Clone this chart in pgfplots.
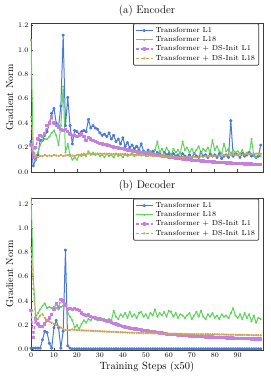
\documentclass[border=0pt]{standalone}
\usepackage{pgfplots}
\usepackage{pgfplotstable}
\pgfplotsset{compat=1.18}
\definecolor{cblue}{HTML}{4A7AD6}
\definecolor{cgreen}{HTML}{62D25E}
\definecolor{cpurple}{HTML}{C57FDC}
\definecolor{ctan}{HTML}{CDA65C}
\definecolor{frame}{HTML}{3C3C3C}

\pgfplotstableread{
x e1 e18 ed1 ed18
0 0.25 1.08 0.22 0.45
1 0.05 0.15 0.12 0.20
2 0.10 0.10 0.20 0.13
3 0.14 0.16 0.27 0.12
4 0.26 0.22 0.30 0.13
5 0.26 0.26 0.29 0.13
6 0.30 0.27 0.31 0.14
7 0.33 0.27 0.38 0.13
8 0.40 0.29 0.40 0.135
9 0.48 0.32 0.45 0.13
10 0.52 0.34 0.40 0.14
11 0.40 0.30 0.38 0.135
12 0.37 0.22 0.37 0.13
13 0.54 0.38 0.35 0.14
14 1.12 0.70 0.34 0.13
15 0.38 0.16 0.35 0.135
16 0.61 0.23 0.33 0.14
17 0.38 0.14 0.31 0.13
18 0.23 0.10 0.30 0.135
19 0.34 0.12 0.30 0.13
20 0.33 0.10 0.29 0.14
21 0.31 0.14 0.30 0.14
22 0.33 0.13 0.31 0.145
23 0.34 0.15 0.29 0.14
24 0.33 0.13 0.26 0.145
25 0.43 0.17 0.28 0.15
26 0.36 0.14 0.27 0.15
27 0.38 0.16 0.26 0.145
28 0.36 0.14 0.25 0.15
29 0.35 0.15 0.24 0.15
30 0.32 0.13 0.235 0.15
31 0.30 0.14 0.23 0.148
32 0.31 0.12 0.225 0.15
33 0.29 0.15 0.22 0.145
34 0.32 0.13 0.215 0.15
35 0.27 0.14 0.21 0.148
36 0.30 0.12 0.205 0.145
37 0.25 0.15 0.20 0.15
38 0.27 0.13 0.195 0.145
39 0.23 0.14 0.19 0.148
40 0.28 0.12 0.19 0.145
41 0.21 0.15 0.185 0.14
42 0.24 0.13 0.18 0.145
43 0.20 0.14 0.178 0.14
44 0.22 0.16 0.175 0.142
45 0.19 0.13 0.17 0.14
46 0.21 0.15 0.168 0.138
47 0.18 0.20 0.165 0.14
48 0.23 0.14 0.162 0.135
49 0.17 0.16 0.16 0.138
50 0.16 0.13 0.155 0.135
51 0.18 0.15 0.152 0.132
52 0.15 0.17 0.148 0.135
53 0.17 0.14 0.145 0.13
54 0.14 0.18 0.142 0.132
55 0.16 0.25 0.138 0.13
56 0.15 0.16 0.135 0.128
57 0.13 0.19 0.132 0.13
58 0.16 0.15 0.128 0.125
59 0.14 0.20 0.125 0.128
60 0.15 0.17 0.122 0.125
61 0.12 0.14 0.12 0.122
62 0.15 0.19 0.118 0.125
63 0.13 0.16 0.115 0.12
64 0.14 0.18 0.112 0.124
65 0.12 0.15 0.11 0.12
66 0.15 0.25 0.108 0.122
67 0.13 0.18 0.105 0.12
68 0.12 0.20 0.103 0.125
69 0.14 0.16 0.10 0.12
70 0.12 0.19 0.098 0.122
71 0.15 0.15 0.096 0.125
72 0.13 0.18 0.094 0.12
73 0.12 0.21 0.092 0.125
74 0.16 0.16 0.09 0.128
75 0.13 0.19 0.089 0.125
76 0.14 0.17 0.087 0.13
77 0.12 0.20 0.086 0.128
78 0.15 0.16 0.084 0.13
79 0.13 0.26 0.083 0.132
80 0.14 0.18 0.082 0.13
81 0.12 0.21 0.08 0.135
82 0.15 0.17 0.079 0.132
83 0.11 0.15 0.078 0.135
84 0.13 0.23 0.077 0.138
85 0.14 0.17 0.075 0.135
86 0.12 0.19 0.074 0.14
87 0.42 0.15 0.073 0.138
88 0.13 0.18 0.072 0.14
89 0.15 0.16 0.071 0.142
90 0.14 0.17 0.07 0.14
91 0.12 0.15 0.069 0.145
92 0.15 0.18 0.068 0.142
93 0.13 0.14 0.067 0.145
94 0.14 0.16 0.066 0.148
95 0.16 0.15 0.065 0.145
96 0.13 0.27 0.064 0.15
97 0.14 0.13 0.063 0.148
98 0.12 0.12 0.062 0.15
99 0.13 0.14 0.061 0.152
100 0.22 0.13 0.06 0.15
}\enctable

\pgfplotstableread{
x d1 d18 dd1 dd18
0 0.01 1.30 0.32 0.84
1 0.01 0.60 0.10 0.50
2 0.01 0.27 0.25 0.25
3 0.01 0.30 0.21 0.25
4 0.01 0.33 0.19 0.28
5 0.08 0.36 0.19 0.29
6 0.15 0.38 0.21 0.26
7 0.14 0.34 0.24 0.24
8 0.05 0.35 0.26 0.23
9 0.01 0.34 0.29 0.22
10 0.18 0.35 0.33 0.21
11 0.24 0.34 0.38 0.20
12 0.18 0.33 0.35 0.19
13 0.01 0.35 0.41 0.18
14 0.15 0.36 0.40 0.17
15 0.82 0.38 0.36 0.16
16 0.03 0.30 0.33 0.158
17 0.01 0.27 0.34 0.16
18 0.005 0.24 0.33 0.165
19 0.005 0.18 0.34 0.16
20 0.005 0.20 0.33 0.16
21 0.005 0.17 0.32 0.158
22 0.005 0.21 0.30 0.157
23 0.005 0.24 0.29 0.156
24 0.005 0.22 0.28 0.155
25 0.005 0.25 0.285 0.155
26 0.005 0.24 0.27 0.154
27 0.005 0.26 0.265 0.153
28 0.005 0.25 0.26 0.152
29 0.005 0.24 0.255 0.151
30 0.005 0.26 0.25 0.15
31 0.005 0.24 0.245 0.149
32 0.005 0.25 0.24 0.148
33 0.005 0.23 0.235 0.147
34 0.005 0.25 0.23 0.146
35 0.005 0.24 0.22 0.145
36 0.005 0.32 0.215 0.145
37 0.005 0.27 0.21 0.144
38 0.005 0.25 0.20 0.143
39 0.005 0.29 0.195 0.142
40 0.005 0.27 0.19 0.14
41 0.005 0.30 0.185 0.14
42 0.005 0.26 0.18 0.139
43 0.005 0.31 0.177 0.138
44 0.005 0.27 0.174 0.138
45 0.005 0.29 0.17 0.137
46 0.005 0.26 0.167 0.137
47 0.005 0.30 0.164 0.136
48 0.005 0.31 0.16 0.136
49 0.005 0.27 0.158 0.135
50 0.005 0.29 0.155 0.135
51 0.005 0.26 0.152 0.134
52 0.005 0.30 0.149 0.134
53 0.005 0.28 0.146 0.133
54 0.005 0.33 0.143 0.133
55 0.005 0.27 0.14 0.132
56 0.005 0.30 0.137 0.132
57 0.005 0.28 0.134 0.131
58 0.005 0.31 0.131 0.131
59 0.005 0.27 0.128 0.13
60 0.005 0.32 0.125 0.13
61 0.005 0.31 0.124 0.13
62 0.005 0.27 0.122 0.129
63 0.005 0.30 0.121 0.129
64 0.005 0.26 0.12 0.128
65 0.005 0.29 0.118 0.128
66 0.005 0.28 0.116 0.127
67 0.005 0.26 0.115 0.127
68 0.005 0.28 0.113 0.126
69 0.005 0.30 0.111 0.126
70 0.005 0.25 0.11 0.125
71 0.005 0.28 0.109 0.126
72 0.005 0.31 0.108 0.125
73 0.005 0.27 0.107 0.126
74 0.005 0.32 0.106 0.125
75 0.005 0.27 0.105 0.125
76 0.005 0.25 0.104 0.126
77 0.005 0.29 0.103 0.125
78 0.005 0.27 0.102 0.124
79 0.005 0.30 0.101 0.125
80 0.005 0.26 0.10 0.125
81 0.005 0.28 0.099 0.124
82 0.005 0.25 0.098 0.123
83 0.005 0.29 0.097 0.124
84 0.005 0.27 0.096 0.123
85 0.005 0.28 0.095 0.122
86 0.005 0.26 0.094 0.122
87 0.005 0.30 0.094 0.121
88 0.005 0.34 0.093 0.122
89 0.005 0.28 0.092 0.121
90 0.005 0.26 0.091 0.12
91 0.005 0.29 0.09 0.12
92 0.005 0.25 0.09 0.119
93 0.005 0.30 0.089 0.12
94 0.005 0.26 0.088 0.119
95 0.005 0.29 0.088 0.118
96 0.005 0.23 0.087 0.118
97 0.005 0.28 0.086 0.117
98 0.005 0.22 0.086 0.118
99 0.005 0.26 0.085 0.117
100 0.005 0.25 0.085 0.117
}\dectable

\pgfplotsset{
  gn/.style={
    scale only axis, width=232pt,
    xmin=0, xmax=101,
    xtick={0,10,20,30,40,50,60,70,80,90},
    ytick={0,0.2,0.4,0.6,0.8,1.0,1.2},
    yticklabel style={xshift=1pt, /pgf/number format/fixed, /pgf/number format/fixed zerofill, /pgf/number format/precision=1},
    tick label style={font=\fontsize{7}{8}\selectfont},
    xticklabel style={yshift=1pt},
    tick align=inside, major tick length=2.5pt,
    xtick pos=bottom, ytick pos=left,
    axis line style={draw=frame, line width=0.9pt},
    tick style={draw=frame, line width=0.6pt},
    ylabel={Gradient Norm},
    ylabel style={font=\fontsize{10}{12}\selectfont, yshift=-2pt},
    title style={font=\fontsize{11}{13}\selectfont, yshift=-3pt},
    legend style={at={(0.983,0.997)}, anchor=north east,
      font=\fontsize{7.3}{8.3}\selectfont, draw=frame, line width=0.8pt,
      fill=white, row sep=-1.4pt, inner sep=1.5pt, rounded corners=1pt},
    legend cell align=left,
    every axis plot/.append style={line join=round},
  },
  sL1/.style={cblue, line width=1pt, mark=*, mark size=1.1pt, mark options={solid}},
  sL18/.style={cgreen, line width=1pt, mark=*, mark size=0.6pt, mark options={solid}},
  sD1/.style={cpurple, line width=1.4pt, dashed, dash pattern=on 3pt off 2pt, mark=square*, mark size=1pt, mark options={solid}},
  sD18/.style={ctan, line width=1pt, dashed, dash pattern=on 3pt off 2pt, mark=*, mark size=0.7pt, mark options={solid}},
}

\begin{document}
\begin{tikzpicture}
\begin{axis}[gn, at={(0,0)}, height=149pt, ymin=0, ymax=1.22,
  xticklabels={}, title={(a) Encoder}]
\addplot[sL1] table[x=x, y=e1] {\enctable};
\addplot[sL18] table[x=x, y=e18] {\enctable};
\addplot[sD1] table[x=x, y=ed1] {\enctable};
\addplot[sD18] table[x=x, y=ed18] {\enctable};
\legend{Transformer L1, Transformer L18, Transformer + DS-Init L1, Transformer + DS-Init L18}
\end{axis}
\begin{axis}[gn, at={(0,-178pt)}, height=152pt, ymin=-0.005, ymax=1.25,
  title={(b) Decoder}, xlabel={Training Steps (x50)},
  xlabel style={font=\fontsize{10.5}{12}\selectfont, yshift=2pt}]
\addplot[sL1] table[x=x, y=d1] {\dectable};
\addplot[sL18] table[x=x, y=d18] {\dectable};
\addplot[sD1] table[x=x, y=dd1] {\dectable};
\addplot[sD18] table[x=x, y=dd18] {\dectable};
\legend{Transformer L1, Transformer L18, Transformer + DS-Init L1, Transformer + DS-Init L18}
\end{axis}
\pgfresetboundingbox
\path[use as bounding box] (-31pt,-207pt) rectangle (239pt,172pt);
\end{tikzpicture}
\end{document}
